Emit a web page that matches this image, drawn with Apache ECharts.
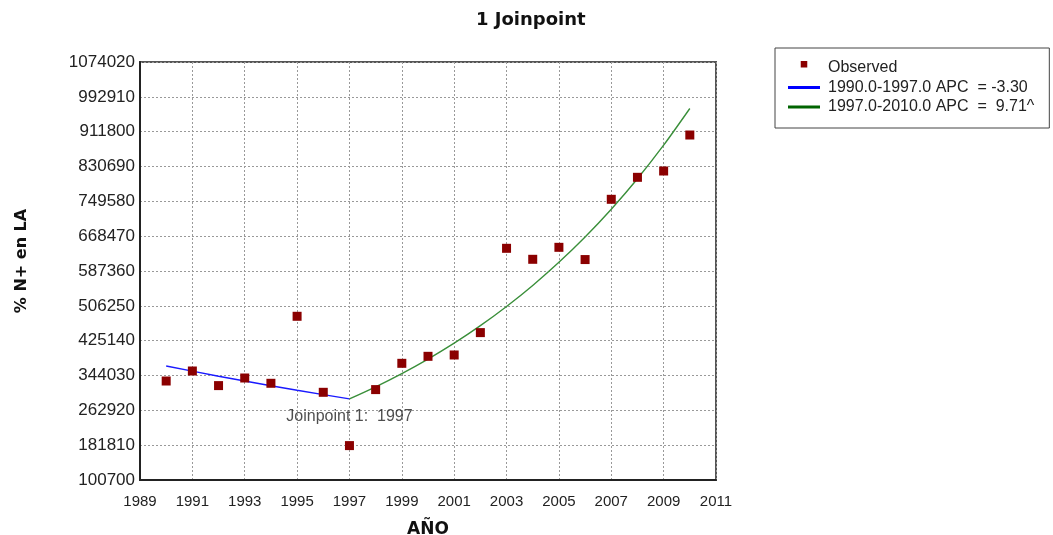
<!DOCTYPE html>
<html>
<head>
<meta charset="utf-8">
<title>1 Joinpoint</title>
<script src="https://cdn.jsdelivr.net/npm/echarts@6/dist/echarts.min.js"></script>
<style>
  html, body { margin: 0; padding: 0; background: #fff; }
  #chart { width: 1053px; height: 535px; }
</style>
</head>
<body>
<div id="chart"></div>
<script>
// Observed values per year
const years = [1990, 1991, 1992, 1993, 1994, 1995, 1996, 1997, 1998, 1999, 2000,
               2001, 2002, 2003, 2004, 2005, 2006, 2007, 2008, 2009, 2010];
const observed = [331200, 354500, 320500, 338200, 325900, 481900, 304900, 180800,
                  311200, 372400, 388700, 391800, 443900, 640200, 614600, 642500,
                  614000, 754300, 805500, 820200, 904000];

// Fitted segment 1: 1990-1997
const seg1Years = [1990, 1991, 1992, 1993, 1994, 1995, 1996, 1997];
const seg1Fit = [366200, 354100, 342400, 331100, 320200, 309600, 299400, 289500];

// Fitted segment 2: 1997-2010
const seg2Years = [1997, 1998, 1999, 2000, 2001, 2002, 2003, 2004, 2005, 2006,
                   2007, 2008, 2009, 2010];
const seg2Fit = [289500, 317600, 348400, 382200, 419300, 460100, 504800, 553800,
                 607600, 666600, 731300, 802300, 880300, 965700];

// Joinpoint location
const joinYear = 1997;
const joinValue = 289500;

// Axis ticks
const yTicks = [100700, 181810, 262920, 344030, 425140, 506250, 587360, 668470,
                749580, 830690, 911800, 992910, 1074020];
const xMin = 1989, xMax = 2011, xStep = 2;

const legendNames = ['Observed', '1990.0-1997.0 APC  = -3.30', '1997.0-2010.0 APC  =  9.71^'];

const FONT = '"Liberation Sans", Arial, sans-serif';
const BOLD_FONT = '"DejaVu Sans", Verdana, sans-serif';
const pairs = (xs, ys) => xs.map((x, i) => [x, ys[i]]);

// Legend icons: an invisible 32x14 frame keeps the drawn shape at its own size
const squareIcon = 'path://M0,0L32,0M0,14L32,14M12.5,-1L19.5,-1L19.5,6L12.5,6Z';
const lineIcon = 'path://M0,0L32,0M0,14L32,14M0,5.5L32,5.5L32,8.5L0,8.5Z';

const chart = echarts.init(document.getElementById('chart'), null, { renderer: 'canvas' });

chart.setOption({
  animation: false,
  backgroundColor: '#ffffff',
  textStyle: { fontFamily: FONT },
  title: {
    text: '1 Joinpoint',
    left: 471,
    top: 6,
    textStyle: { fontFamily: BOLD_FONT, fontSize: 18, fontWeight: 'bold', color: '#111' }
  },
  legend: {
    orient: 'vertical',
    left: 775,
    top: 48,
    padding: [12, 15, 13, 13],
    itemWidth: 32,
    itemHeight: 14,
    itemGap: 3.5,
    borderColor: '#444',
    borderWidth: 1,
    selectedMode: false,
    textStyle: { fontFamily: FONT, fontSize: 16, color: '#222', padding: [0, 0, 0, 3] },
    data: [
      { name: legendNames[0], icon: squareIcon, itemStyle: { color: '#8b0000' } },
      { name: legendNames[1], icon: lineIcon, itemStyle: { color: '#0000ff' } },
      { name: legendNames[2], icon: lineIcon, itemStyle: { color: '#006400' } }
    ]
  },
  grid: {
    left: 140,
    right: 337,
    top: 62,
    bottom: 55,
    outerBoundsMode: 'none',
    containLabel: false,
    show: true,
    borderColor: '#555',
    borderWidth: 2,
    backgroundColor: '#fff'
  },
  xAxis: {
    type: 'value',
    min: xMin,
    max: xMax,
    interval: xStep,
    name: 'AÑO',
    nameLocation: 'middle',
    nameGap: 41,
    nameTextStyle: { fontFamily: BOLD_FONT, fontSize: 17, fontWeight: 'bold', color: '#111' },
    axisLine: { show: true, lineStyle: { color: '#222', width: 2 } },
    axisTick: { show: false },
    axisLabel: { fontFamily: FONT, fontSize: 15, color: '#222', margin: 14, formatter: v => String(v) },
    splitLine: { show: true, lineStyle: { color: '#999', type: [2, 2], width: 1 } }
  },
  yAxis: {
    type: 'value',
    min: yTicks[0],
    max: yTicks[yTicks.length - 1],
    interval: yTicks[1] - yTicks[0],
    name: '% N+ en LA',
    nameLocation: 'middle',
    nameGap: 110,
    nameRotate: 90,
    nameTextStyle: { fontFamily: BOLD_FONT, fontSize: 16, fontWeight: 'bold', color: '#111', padding: [0, 0, 0, 20] },
    axisLine: { show: true, lineStyle: { color: '#222', width: 2 } },
    axisTick: { show: false },
    axisLabel: { fontFamily: FONT, fontSize: 17, color: '#222', margin: 5, formatter: v => String(v) },
    splitLine: { show: true, lineStyle: { color: '#999', type: [2, 2], width: 1 } }
  },
  series: [
    {
      name: legendNames[1],
      type: 'line',
      data: pairs(seg1Years, seg1Fit),
      symbol: 'none',
      color: '#1a1aff',
      lineStyle: { color: '#1a1aff', width: 1.4 },
      z: 3
    },
    {
      name: legendNames[2],
      type: 'line',
      data: pairs(seg2Years, seg2Fit),
      symbol: 'none',
      smooth: 0.3,
      color: '#3a8f3a',
      lineStyle: { color: '#3a8f3a', width: 1.4 },
      z: 3
    },
    {
      name: 'joinpoint',
      type: 'scatter',
      data: [[joinYear, joinValue]],
      symbolSize: 0,
      silent: true,
      label: {
        show: true,
        position: 'bottom',
        distance: 10,
        formatter: 'Joinpoint 1:  ' + joinYear,
        fontFamily: FONT,
        fontSize: 16,
        color: '#222'
      },
      z: 4
    },
    {
      name: legendNames[0],
      type: 'scatter',
      data: pairs(years, observed),
      symbol: 'rect',
      symbolSize: 9,
      itemStyle: { color: '#8b0000', opacity: 1 },
      z: 5
    }
  ]
});
</script>
</body>
</html>
